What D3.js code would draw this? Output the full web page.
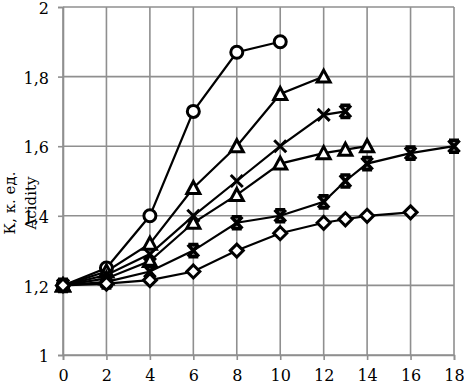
<!DOCTYPE html>
<html><head><meta charset="utf-8">
<script src="https://cdn.jsdelivr.net/npm/d3@7"></script>
<style>body{margin:0;background:#fff} svg text{font-family:"DejaVu Serif",serif !important;}</style>
</head><body><svg id="c" width="464" height="384"></svg>
<script>
const xTicks = [0,2,4,6,8,10,12,14,16,18];
const yTicks = [1,1.2,1.4,1.6,1.8,2];
const yTickLabels = ["1","1,2","1,4","1,6","1,8","2"];
const s1x = [0,2,4,6,8,10];
const s1y = [1.2,1.25,1.40,1.70,1.87,1.90];
const s2x = [0,2,4,6,8,10,12];
const s2y = [1.2,1.24,1.32,1.48,1.60,1.75,1.80];
const s3x = [0,2,4,6,8,10,12,13];
const s3y = [1.2,1.23,1.29,1.40,1.50,1.60,1.69,1.70];
const s4x = [0,2,4,6,8,10,12,13,14];
const s4y = [1.2,1.22,1.27,1.38,1.46,1.55,1.58,1.59,1.60];
const s5x = [0,2,4,6,8,10,12,13,14,16,18];
const s5y = [1.2,1.21,1.24,1.30,1.38,1.40,1.44,1.50,1.55,1.58,1.60];
const s6x = [0,2,4,6,8,10,12,13,14,16];
const s6y = [1.2,1.205,1.215,1.24,1.30,1.35,1.38,1.39,1.40,1.41];
const seriesMarkers = ["circle","triangle","x","triangle","star","diamond"];
const yLabel1 = "К, к. ед.";
const yLabel2 = "Acidity";

const series = [[s1x,s1y],[s2x,s2y],[s3x,s3y],[s4x,s4y],[s5x,s5y],[s6x,s6y]].map((p,i)=>({
  m: seriesMarkers[i], pts: p[0].map((x,j)=>({x, y:p[1][j]}))
}));

const svg = d3.select("#c");
const m = {l:63, r:454, t:7, b:355};
const x = d3.scaleLinear().domain([0,18]).range([m.l,m.r]);
const y = d3.scaleLinear().domain([1,2]).range([m.b,m.t]);
const grid = "#8f8f8f";

svg.append("g").selectAll("line").data(xTicks).join("line")
  .attr("x1",d=>x(d)).attr("x2",d=>x(d)).attr("y1",m.t).attr("y2",m.b)
  .attr("stroke",grid).attr("stroke-width",1.6);
svg.append("g").selectAll("line").data(yTicks).join("line")
  .attr("x1",m.l).attr("x2",m.r).attr("y1",d=>y(d)).attr("y2",d=>y(d))
  .attr("stroke",grid).attr("stroke-width",1.6);

const xa = svg.append("g").attr("transform",`translate(0,${m.b})`)
  .call(d3.axisBottom(x).tickValues(xTicks).tickSize(5).tickPadding(10));
const ya = svg.append("g").attr("transform",`translate(${m.l},0)`)
  .call(d3.axisLeft(y).tickValues(yTicks).tickSize(5).tickPadding(9).tickFormat((d,i)=>yTickLabels[i]));
[xa,ya].forEach(a=>{
  a.attr("font-size",16);
  a.select(".domain").attr("stroke",grid).attr("stroke-width",1.6);
  a.selectAll(".tick line").attr("stroke",grid).attr("stroke-width",1.6);
  a.selectAll("text").attr("fill","#000").attr("font-size",16);
});
ya.selectAll(".tick text").attr("dy","0.42em");

svg.append("text").attr("transform","translate(15,203) rotate(-90)")
  .attr("text-anchor","middle").attr("font-size",15).text(yLabel1);
svg.append("text").attr("transform","translate(36,203) rotate(-90)")
  .attr("text-anchor","middle").attr("font-size",15).text(yLabel2);

const line = d3.line().x(d=>x(d.x)).y(d=>y(d.y));
svg.append("g").selectAll("path").data(series).join("path")
  .attr("d",d=>line(d.pts)).attr("fill","none").attr("stroke","#000").attr("stroke-width",2.2);

function marker(g, type){
  const sw = 3;
  if(type==="circle"){
    g.append("circle").attr("r",6).attr("fill","#fff").attr("stroke","#000").attr("stroke-width",sw);
  } else if(type==="triangle"){
    g.append("path").attr("d","M0,-6.5L6.5,5.5L-6.5,5.5Z")
      .attr("fill","#fff").attr("stroke","#000").attr("stroke-width",sw).attr("stroke-linejoin","miter");
  } else if(type==="diamond"){
    g.append("path").attr("d","M0,-6.5L6.5,0L0,6.5L-6.5,0Z").attr("fill","#fff").attr("stroke","#000").attr("stroke-width",sw);
  } else if(type==="x"){
    g.append("path").attr("d","M-6,-6L6,6M-6,6L6,-6").attr("stroke","#000").attr("stroke-width",3);
  } else if(type==="star"){
    g.append("path").attr("d","M-5.5,-6L5.5,6M-5.5,6L5.5,-6M-5,-6L5,-6M-5,6L5,6").attr("stroke","#000").attr("stroke-width",3.6);
  }
}
series.forEach(s=>{
  s.pts.forEach((p,j)=>{
    const g = svg.append("g").attr("transform",`translate(${x(p.x)},${y(p.y)})`);
    // the last point of the upper "x" series is drawn bold in the reference
    marker(g, (s.m==="x" && j===s.pts.length-1) ? "star" : s.m);
  });
});
</script></body></html>
